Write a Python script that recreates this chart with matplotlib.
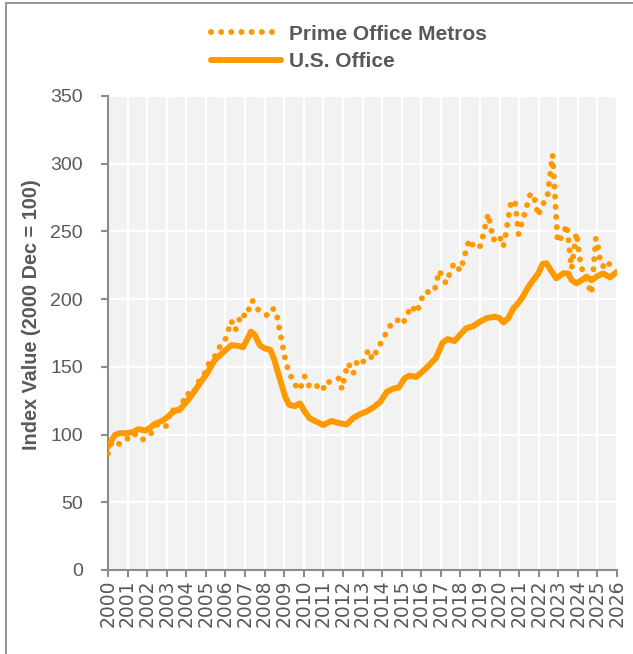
import matplotlib
matplotlib.use("Agg")
import matplotlib.pyplot as plt
from matplotlib.patches import Rectangle

# ---- data (decimal year, index value) ----
prime_years = [2000.0, 2000.2, 2000.6, 2001.0, 2001.3, 2001.75, 2002.2, 2002.55, 2002.95, 2003.25,
               2003.55, 2003.8, 2004.0, 2004.35, 2004.5, 2004.9, 2005.1, 2005.45, 2005.7, 2006.0,
               2006.3, 2006.5, 2006.65, 2006.8, 2007.05, 2007.37, 2007.68, 2008.14, 2008.4, 2008.58,
               2009.1, 2009.5, 2009.8, 2010.0, 2010.06, 2010.3, 2010.6, 2010.83, 2011.07, 2011.3,
               2011.8, 2011.95, 2012.24, 2012.36, 2012.53, 2012.7, 2012.95, 2013.3, 2013.5, 2013.75,
               2014.28, 2014.54, 2014.83, 2015.05, 2015.5, 2015.77, 2016.14, 2016.67, 2016.92, 2017.26,
               2017.67, 2018.0, 2018.45, 2018.74, 2019.03, 2019.42, 2019.68, 2020.0, 2020.16, 2020.24,
               2020.6, 2020.8, 2020.97, 2021.58, 2021.76, 2021.98, 2022.15, 2022.44, 2022.71, 2022.97,
               2023.25, 2023.42, 2023.5, 2023.68, 2023.93, 2024.15, 2024.7, 2024.92, 2025.0, 2025.18,
               2025.55, 2025.7]
prime_values = [86, 95, 93, 97, 101, 96, 101, 108, 106, 119,
                115, 123, 130.5, 129, 136.5, 144, 151.5, 157.5, 164.5, 170.5,
                184, 177, 182, 189.5, 187, 199, 192, 188, 193, 191.5,
                152, 137.5, 133, 142, 143, 135, 134.5, 138, 133.5, 139,
                141.5, 133.5, 152.5, 150.5, 145, 153, 151, 162.5, 155.5, 162.5,
                177, 183.5, 184.5, 181.5, 195, 190, 205, 205.8, 221, 211.7,
                226.5, 221, 244, 237.5, 239.3, 263, 243.7, 247, 238.8, 241,
                273, 271, 248, 278, 276, 261.4, 268.8, 275, 306.5, 242,
                247.5, 255, 246.7, 222.6, 249, 224.5, 204, 245, 241.3, 225.3,
                222.6, 232]

us_years = [2000.0, 2000.35, 2000.6, 2000.95, 2001.3, 2001.55, 2001.9, 2002.15, 2002.4, 2002.75,
            2003.0, 2003.35, 2003.7, 2004.0, 2004.35, 2004.7, 2005.05, 2005.45, 2005.9, 2006.3,
            2006.65, 2006.9, 2007.1, 2007.3, 2007.5, 2007.75, 2008.0, 2008.3, 2008.5, 2008.8,
            2009.05, 2009.25, 2009.55, 2009.8, 2010.05, 2010.3, 2010.65, 2011.0, 2011.4, 2011.85,
            2012.2, 2012.5, 2012.87, 2013.2, 2013.55, 2013.9, 2014.25, 2014.6, 2014.85, 2015.15,
            2015.4, 2015.75, 2016.25, 2016.75, 2017.1, 2017.35, 2017.7, 2018.0, 2018.3, 2018.65,
            2019.0, 2019.35, 2019.75, 2020.0, 2020.2, 2020.45, 2020.7, 2020.95, 2021.2, 2021.47,
            2021.72, 2021.98, 2022.2, 2022.4, 2022.66, 2022.9, 2023.25, 2023.5, 2023.68, 2023.93,
            2024.2, 2024.45, 2024.7, 2025.0, 2025.3, 2025.64, 2025.98]
us_values = [91, 99.7, 101, 101, 102, 104, 103, 105, 108, 110,
             112.5, 117, 119, 124, 130.5, 138, 145, 155, 161, 166,
             165.5, 164.5, 170, 176, 173.6, 166, 163.7, 162.5, 155, 140,
             128, 122, 121, 123, 117, 112, 109.5, 107, 110, 108.3,
             107.5, 112, 115, 117, 120, 124, 131.7, 134, 134.7, 141.6,
             143.5, 142.5, 149, 156.5, 168, 170.5, 169, 174, 178.5, 180,
             183.4, 186, 187, 186, 182.7, 186, 193, 197, 202, 209,
             214, 219, 226, 226.5, 220.4, 215.4, 219, 219, 214, 211.7,
             214, 216.6, 214, 217, 219, 216, 220]

year_ticks = list(range(2000, 2027))
y_ticks = [0, 50, 100, 150, 200, 250, 300, 350]
series_labels = ["Prime Office Metros", "U.S. Office"]
y_label = "Index Value (2000 Dec = 100)"

ORANGE = "#FF9900"
TXT = "#595959"
SPINE = "#8C8C8C"

W, H = 633, 654
fig = plt.figure(figsize=(W / 100, H / 100), dpi=100)
fig.patch.set_facecolor("white")

ax = fig.add_axes([108 / W, 1 - 570 / H, (617 - 108) / W, (570 - 96) / H])
ax.set_facecolor("#F2F2F2")

l1, = ax.plot(prime_years, prime_values, color=ORANGE, lw=4.3,
              linestyle=(0, (0.001, 1.7)), dash_capstyle="round",
              solid_joinstyle="round", label=series_labels[0], zorder=3)
l2, = ax.plot(us_years, us_values, color=ORANGE, lw=4.3,
              solid_capstyle="round", solid_joinstyle="round",
              label=series_labels[1], zorder=4)

ax.set_xlim(2000, 2026)
ax.set_ylim(0, 350)
ax.set_xticks(year_ticks)
ax.set_xticklabels([str(y) for y in year_ticks], rotation=90,
                   fontfamily="DejaVu Sans", fontsize=13.5, color=TXT)
ax.set_yticks(y_ticks)
ax.set_yticklabels([str(v) for v in y_ticks], fontfamily="Liberation Sans",
                   fontsize=14, color=TXT)

ax.grid(True, color="white", lw=1.6, zorder=1)
ax.set_axisbelow(True)
for s in ["top", "right"]:
    ax.spines[s].set_visible(False)
for s in ["left", "bottom"]:
    ax.spines[s].set_color(SPINE)
    ax.spines[s].set_linewidth(1.5)
ax.tick_params(axis="x", direction="out", length=5, width=1.5, color=SPINE, pad=2)
ax.tick_params(axis="y", direction="out", length=5, width=1.5, color=SPINE, pad=13)

fig.text(32 / W, 1 - 315 / H, y_label, rotation=90, ha="center", va="center",
         fontfamily="Liberation Sans", fontweight="bold", fontsize=14.3, color=TXT)

leg = fig.legend([l1, l2], series_labels, loc="center left",
                 bbox_to_anchor=(211 / W, 1 - 48 / H), frameon=False,
                 handlelength=3.35, handletextpad=0.38, labelspacing=0.42,
                 borderpad=0, borderaxespad=0,
                 prop={"family": "Liberation Sans", "weight": "bold", "size": 15})
for t in leg.get_texts():
    t.set_color(TXT)

# outer frame
fig.patches.append(Rectangle((6 / W, -0.2), 2, 1.2 - 3 / H, transform=fig.transFigure,
                             fill=False, edgecolor="#8C8C8C", lw=1.3, zorder=0))

fig.savefig("out.png", dpi=100)
